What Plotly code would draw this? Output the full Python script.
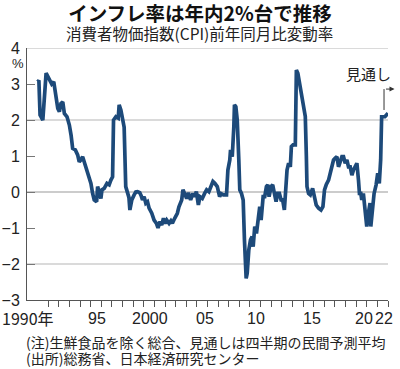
import plotly.graph_objects as go

# decimal year, core CPI y/y change (%)
dates = [
    1990.0, 1990.12, 1990.23, 1990.35, 1990.49, 1990.8, 1990.95, 1991.1, 1991.33, 1991.52,
    1991.74, 1991.9, 1992.05, 1992.2, 1992.37, 1992.52, 1992.77, 1992.99, 1993.15, 1993.3,
    1993.55, 1993.77, 1993.92, 1994.08, 1994.24, 1994.39, 1994.55, 1994.77, 1995.02, 1995.18,
    1995.33, 1995.56, 1995.65, 1995.8, 1995.96, 1996.06, 1996.27, 1996.53, 1996.74, 1996.9,
    1997.06, 1997.15, 1997.37, 1997.59, 1997.68, 1997.84, 1998.0, 1998.15, 1998.3, 1998.45,
    1998.6, 1998.69, 1998.87, 1999.09, 1999.25, 1999.41, 1999.62, 1999.75, 1999.88, 2000.03,
    2000.19, 2000.35, 2000.5, 2000.75, 2000.97, 2001.19, 2001.34, 2001.53, 2001.69, 2001.85,
    2002.0, 2002.16, 2002.38, 2002.55, 2002.69, 2002.91, 2003.16, 2003.31, 2003.57, 2003.69,
    2003.85, 2004.04, 2004.2, 2004.41, 2004.63, 2004.79, 2004.95, 2005.14, 2005.29, 2005.51,
    2005.73, 2005.92, 2006.13, 2006.32, 2006.51, 2006.69, 2006.92, 2007.14, 2007.3, 2007.5,
    2007.79, 2007.92, 2008.1, 2008.17, 2008.33, 2008.48, 2008.54, 2008.67, 2008.8, 2008.95,
    2009.04, 2009.2, 2009.36, 2009.48, 2009.64, 2009.74, 2009.89, 2010.05, 2010.2, 2010.3,
    2010.45, 2010.61, 2010.77, 2010.92, 2011.05, 2011.24, 2011.39, 2011.55, 2011.68, 2011.8,
    2011.99, 2012.14, 2012.3, 2012.46, 2012.61, 2012.77, 2012.93, 2013.08, 2013.24, 2013.49,
    2013.64, 2013.8, 2013.9, 2014.06, 2014.27, 2014.37, 2014.51, 2014.74, 2014.99, 2015.1,
    2015.21, 2015.31, 2015.37, 2015.52, 2015.68, 2015.9, 2016.06, 2016.24, 2016.46, 2016.69,
    2016.87, 2017.02, 2017.18, 2017.4, 2017.56, 2017.72, 2017.87, 2018.03, 2018.19, 2018.34,
    2018.5, 2018.66, 2018.81, 2018.97, 2019.13, 2019.28, 2019.44, 2019.6, 2019.75, 2019.91,
    2020.07, 2020.22, 2020.31, 2020.44, 2020.53, 2020.68, 2020.84, 2021.0, 2021.15, 2021.31,
    2021.38, 2021.53, 2021.69, 2021.88, 2022.03, 2022.18, 2022.31, 2022.4, 2022.71, 2023.0,
]
cpi = [
    3.06, 3.1, 2.14, 2.05, 2.0, 3.3, 3.2, 3.1, 3.0, 3.06,
    2.65, 2.32, 2.23, 2.46, 2.5, 2.18, 2.09, 1.86, 1.58, 1.21,
    1.17, 1.03, 0.84, 0.89, 0.98, 0.84, 0.7, 0.52, 0.24, -0.04,
    -0.22, -0.27, 0.15, 0.01, -0.18, 0.06, 0.1, 0.24, 0.2, 0.33,
    0.42, 2.0, 2.09, 2.05, 2.42, 2.28, 2.0, 1.8, 0.15, -0.05,
    -0.15, -0.5, -0.22, -0.08, 0.0, 0.01, -0.02, -0.1, -0.22, -0.13,
    -0.31, -0.27, -0.45, -0.59, -0.78, -0.87, -1.0, -0.82, -0.92, -0.73,
    -0.87, -0.78, -0.87, -0.8, -0.87, -0.73, -0.59, -0.41, -0.22, 0.06,
    -0.04, -0.18, -0.02, -0.22, -0.04, -0.13, 0.01, -0.36, -0.13, -0.18,
    -0.04, 0.06, 0.01, 0.15, 0.29, 0.24, 0.15, -0.13, -0.05, -0.08,
    -0.08, 0.61, 0.89, 1.17, 0.98, 1.81, 2.42, 2.37, 2.0, 0.89,
    0.06, -0.04, -0.22, -1.33, -2.4, -2.26, -1.61, -1.33, -1.24, -1.52,
    -0.96, -1.15, -0.78, -0.41, -0.78, -0.13, -0.13, 0.15, 0.2, -0.13,
    0.15, 0.2, -0.04, -0.27, -0.04, -0.04, -0.22, -0.22, -0.5, 0.61,
    0.8, 0.7, 1.26, 1.31, 1.31, 3.39, 3.3, 2.92, 2.37, 2.25,
    2.1, 1.0, 0.15, -0.04, -0.08, 0.1, -0.13, -0.36, -0.45, -0.5,
    -0.41, 0.06, 0.2, 0.33, 0.52, 0.7, 0.89, 0.94, 0.98, 0.7,
    0.84, 0.98, 0.98, 0.8, 0.89, 0.7, 0.7, 0.47, 0.61, 0.7,
    0.8, 0.33, -0.04, -0.04, -0.22, -0.04, -0.41, -0.96, -0.59, -0.31,
    -0.96, -0.5, -0.04, 0.2, 0.52, 0.24, 0.89, 2.09, 2.09, 2.19,
]

y_ticks = [-3, -2, -1, 0, 1, 2, 3, 4]
grid_levels = [4, 2, 0, -2]
x_label_pos = [1989.05, 1995.6, 2000.6, 2005.8, 2010.6, 2015.8, 2020.7, 2022.6]
x_label_text = ["1990年", "95", "2000", "05", "10", "15", "20", "22"]

title = "インフレ率は年内2%台で推移"
subtitle = "消費者物価指数(CPI)前年同月比変動率"
note1 = "(注)生鮮食品を除く総合、見通しは四半期の民間予測平均"
note2 = "(出所)総務省、日本経済研究センター"
forecast_label = "見通し"

JP = "Noto Sans CJK JP"
NUM = "Liberation Sans Narrow, Liberation Sans, Arial"
LINE_COLOR = "#1d4a7a"

fig = go.Figure()
fig.add_trace(go.Scatter(
    x=dates, y=cpi, mode="lines",
    line=dict(color=LINE_COLOR, width=3.7),
    hoverinfo="skip", showlegend=False,
))

shapes = []
for g in grid_levels:
    shapes.append(dict(type="line", xref="paper", yref="y", x0=0, x1=1, y0=g, y1=g,
                       line=dict(color="#999999" if g == 0 else "#b5b5b5", width=1),
                       layer="below"))
# forecast bracket
shapes.append(dict(type="line", xref="paper", yref="paper", x0=0.989, x1=0.989,
                   y0=0.754, y1=0.837, line=dict(color="#333333", width=1)))

annotations = []
for xv, txt in zip(x_label_pos, x_label_text):
    annotations.append(dict(x=xv, y=-0.072, xref="x", yref="paper", text=txt,
                            showarrow=False, xanchor="center", yanchor="middle",
                            font=dict(family=JP if "年" in txt else NUM, size=16, color="#222")))
annotations += [
    dict(x=0.479, y=1.058, xref="paper", yref="paper", text=subtitle, showarrow=False,
         xanchor="center", yanchor="middle", font=dict(family=JP, size=15.5, color="#222")),
    dict(x=-0.007, y=-0.166, xref="paper", yref="paper", text=note1, showarrow=False,
         xanchor="left", yanchor="middle", font=dict(family=JP, size=14, color="#222")),
    dict(x=-0.007, y=-0.232, xref="paper", yref="paper", text=note2, showarrow=False,
         xanchor="left", yanchor="middle", font=dict(family=JP, size=14, color="#222")),
    dict(x=-0.025, y=0.937, xref="paper", yref="paper", text="%", showarrow=False,
         xanchor="center", yanchor="middle", font=dict(family=NUM, size=13, color="#222")),
    dict(x=0.945, y=0.897, xref="paper", yref="paper", text=forecast_label, showarrow=False,
         xanchor="center", yanchor="middle", font=dict(family=JP, size=15, color="#222")),
    dict(x=1.018, y=0.837, xref="paper", yref="paper", text="", showarrow=True,
         ax=-10, ay=0, arrowhead=2, arrowsize=1, arrowwidth=1, arrowcolor="#333333"),
]

fig.update_layout(
    template="none",
    width=400, height=369,
    margin=dict(l=27, r=12, t=48, b=69, autoexpand=False),
    paper_bgcolor="white", plot_bgcolor="white",
    title=dict(text="<b>" + title + "</b>", x=0.5, xref="container", xanchor="center",
               y=1 - 14 / 369, yref="container", yanchor="middle",
               font=dict(family=JP, size=19.5, color="#111")),
    xaxis=dict(range=[1989, 2023], tickvals=list(range(1991, 2024)), ticks="outside",
               ticklen=6, tickcolor="#555", showticklabels=False, showgrid=False,
               zeroline=False, showline=True, linecolor="#555", linewidth=1,
               automargin=False, fixedrange=True),
    yaxis=dict(range=[-3, 4], tickvals=y_ticks, ticks="inside", ticklen=8, tickcolor="#777",
               showgrid=False, zeroline=False, showline=True, linecolor="#555", linewidth=1,
               tickfont=dict(family=NUM, size=16, color="#222"), ticklabelstandoff=3,
               automargin=False, fixedrange=True),
    shapes=shapes,
    annotations=annotations,
)

fig.write_html(
    "out.html",
    config={"displayModeBar": False},
    post_script="document.body.style.margin='0';document.body.style.overflow='hidden';",
)
